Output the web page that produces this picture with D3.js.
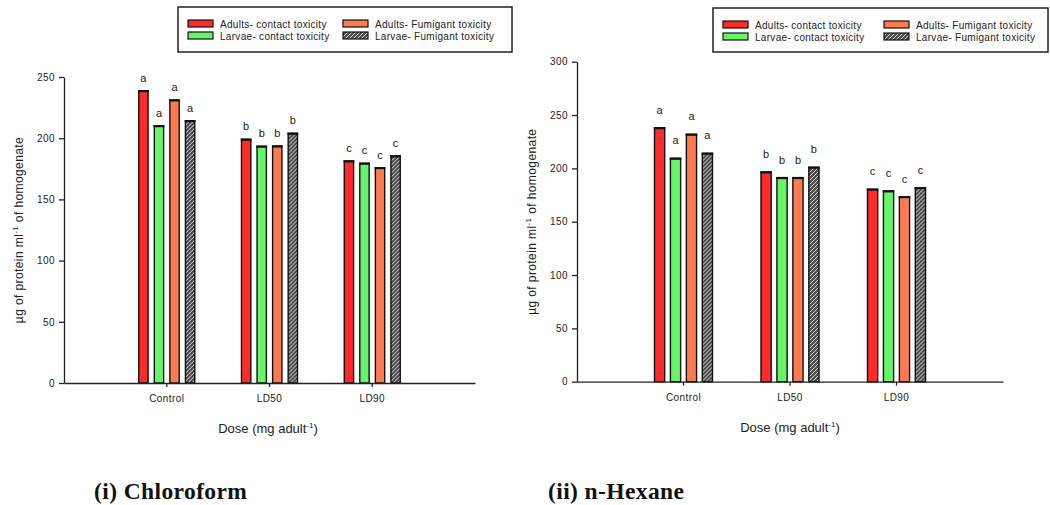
<!DOCTYPE html>
<html lang="en">
<head>
<meta charset="utf-8" />
<title>Protein content - Chloroform and n-Hexane</title>
<style>
    body { margin: 0; background: #fff; }
    svg text { font-family: "Liberation Sans", Arial, sans-serif; fill: #222; }
    .axis path, .axis line { stroke: #222; stroke-width: 1.3; }
    .axis text { font-size: 10px; letter-spacing: 0.4px; fill: #222; }
    .panel-title { font-family: "Liberation Serif", "DejaVu Serif", serif; font-weight: bold; font-size: 23.5px; letter-spacing: 0.4px; fill: #111; }
</style>
<script src="https://cdn.jsdelivr.net/npm/d3@7/dist/d3.min.js"></script>
</head>
<body>
<script>
// ---- data ----
var doses = ['Control', 'LD50', 'LD90'];
var seriesNames = ['Adults- contact toxicity', 'Larvae- contact toxicity', 'Adults- Fumigant toxicity', 'Larvae- Fumigant toxicity'];
var seriesColors = ['#ff2b2b', '#66f566', '#ff7a50', 'url(#hatch)'];

// chloroform values, one array per series (Control, LD50, LD90)
var chloroAdultContact = [238.8, 199.1, 181.4];
var chloroLarvaeContact = [210.2, 193.4, 179.5];
var chloroAdultFumigant = [231.2, 193.6, 175.9];
var chloroLarvaeFumigant = [214.3, 204.0, 185.5];

// n-hexane values
var hexAdultContact = [238.1, 196.6, 180.4];
var hexLarvaeContact = [209.4, 191.3, 178.8];
var hexAdultFumigant = [231.9, 191.3, 173.4];
var hexLarvaeFumigant = [214.1, 201.0, 181.9];

// significance letters per dose
var letters = ['a', 'b', 'c'];

var chloroTicks = [0, 50, 100, 150, 200, 250];
var hexTicks = [0, 50, 100, 150, 200, 250, 300];

var width = 1050, height = 505;

var svg = d3.select('body').append('svg')
    .attr('width', width)
    .attr('height', height);

// hatch pattern for the larvae fumigant bars
var defs = svg.append('defs');
var pat = defs.append('pattern')
    .attr('id', 'hatch')
    .attr('patternUnits', 'userSpaceOnUse')
    .attr('width', 4).attr('height', 4);
pat.append('rect').attr('width', 4).attr('height', 4).attr('fill', '#4a4a4a');
pat.append('path').attr('d', 'M0,4 L4,0 M-1,1 L1,-1 M3,5 L5,3')
    .attr('stroke', '#e0e0e0').attr('stroke-width', 1);

function drawChart(opt) {
    var series = opt.series;
    var g = svg.append('g');

    var x = d3.scaleBand()
        .domain(doses)
        .range([opt.left, opt.right])
        .paddingInner(0)
        .paddingOuter(0.5);

    var xs = d3.scaleBand()
        .domain(d3.range(series.length))
        .range([-opt.groupWidth / 2, opt.groupWidth / 2])
        .paddingInner(opt.barPad);

    var y = d3.scaleLinear()
        .domain([0, opt.ticks[opt.ticks.length - 1]])
        .range([opt.bottom, opt.top]);

    // bars
    var groups = g.selectAll('.dose')
        .data(doses)
        .enter()
        .append('g')
        .attr('transform', function(d) { return 'translate(' + (x(d) + x.bandwidth() / 2) + ',0)'; });

    groups.each(function(dose, di) {
        var grp = d3.select(this);
        series.forEach(function(vals, si) {
            grp.append('rect')
                .attr('x', xs(si))
                .attr('y', y(vals[di]))
                .attr('width', xs.bandwidth())
                .attr('height', y(0) - y(vals[di]))
                .attr('fill', seriesColors[si])
                .attr('stroke', '#111')
                .attr('stroke-width', 1.4);
            // small black cap at bar top
            grp.append('rect')
                .attr('x', xs(si) - 0.7)
                .attr('y', y(vals[di]) - 0.7)
                .attr('width', xs.bandwidth() + 1.4)
                .attr('height', 2.2)
                .attr('fill', '#111');
            grp.append('text')
                .attr('x', xs(si) + xs.bandwidth() / 2)
                .attr('y', y(vals[di]) - opt.letterGap)
                .attr('text-anchor', 'middle')
                .style('font-size', '11px')
                .text(letters[di]);
        });
    });

    // axes
    g.append('g')
        .attr('class', 'axis')
        .attr('transform', 'translate(0,' + opt.bottom + ')')
        .call(d3.axisBottom(x).tickSizeInner(4).tickSizeOuter(0).tickPadding(8))
        .call(function(a) { a.selectAll('text').attr('dy', '0.71em'); });

    g.append('g')
        .attr('class', 'axis')
        .attr('transform', 'translate(' + opt.left + ',0)')
        .call(d3.axisLeft(y).tickValues(opt.ticks).tickSizeInner(5).tickSizeOuter(0).tickPadding(4));

    // axis titles
    var yt = g.append('text')
        .attr('transform', 'translate(' + opt.yTitleX + ',' + ((opt.top + opt.bottom) / 2 + opt.yTitleShift) + ') rotate(-90)')
        .attr('text-anchor', 'middle')
        .style('font-size', '12px')
        .style('letter-spacing', '0.4px');
    yt.append('tspan').text('\u00b5g of protein ml');
    yt.append('tspan').attr('dy', -5).style('font-size', '8px').text('-1');
    yt.append('tspan').attr('dy', 5).text(' of homogenate');

    var xt = g.append('text')
        .attr('x', opt.xTitleX)
        .attr('y', opt.bottom + 50)
        .attr('text-anchor', 'middle')
        .style('font-size', '13px');
    xt.append('tspan').text('Dose (mg adult');
    xt.append('tspan').attr('dy', -5).style('font-size', '8px').text('-1');
    xt.append('tspan').attr('dy', 5).text(')');

    // legend
    var lg = g.append('g');
    lg.append('rect')
        .attr('x', opt.legend.x).attr('y', opt.legend.y)
        .attr('width', opt.legend.w).attr('height', opt.legend.h)
        .attr('fill', '#fff').attr('stroke', '#222').attr('stroke-width', 1.5);
    seriesNames.forEach(function(name, i) {
        var col = i < 2 ? 0 : 1, row = i % 2;
        var lx = opt.legend.x + 10 + col * opt.legend.colW;
        var ly = opt.legend.y + 13 + row * 12;
        lg.append('rect')
            .attr('x', lx).attr('y', ly)
            .attr('width', 25).attr('height', 7)
            .attr('fill', seriesColors[i])
            .attr('stroke', '#111').attr('stroke-width', 1.2);
        lg.append('text')
            .attr('x', lx + 32).attr('y', ly + 7.5)
            .style('font-size', '10px')
            .style('letter-spacing', '0.3px')
            .text(name);
    });

    svg.append('text')
        .attr('class', 'panel-title')
        .attr('x', opt.titleX)
        .attr('y', 499)
        .text(opt.title);
}

drawChart({
    series: [chloroAdultContact, chloroLarvaeContact, chloroAdultFumigant, chloroLarvaeFumigant],
    ticks: chloroTicks,
    left: 64, right: 475, top: 77, bottom: 383,
    groupWidth: 56, barPad: 0.4, letterGap: 9,
    yTitleX: 23, yTitleShift: 0,
    xTitleX: 268,
    legend: { x: 178, y: 7, w: 334, h: 45, colW: 155 },
    title: '(i) Chloroform', titleX: 94
});

drawChart({
    series: [hexAdultContact, hexLarvaeContact, hexAdultFumigant, hexLarvaeFumigant],
    ticks: hexTicks,
    left: 577, right: 1003, top: 61.7, bottom: 381.7,
    groupWidth: 58, barPad: 0.36, letterGap: 14,
    yTitleX: 536, yTitleShift: 0,
    xTitleX: 790,
    legend: { x: 713, y: 8, w: 335, h: 44, colW: 161 },
    title: '(ii) n-Hexane', titleX: 548
});
</script>
</body>
</html>
